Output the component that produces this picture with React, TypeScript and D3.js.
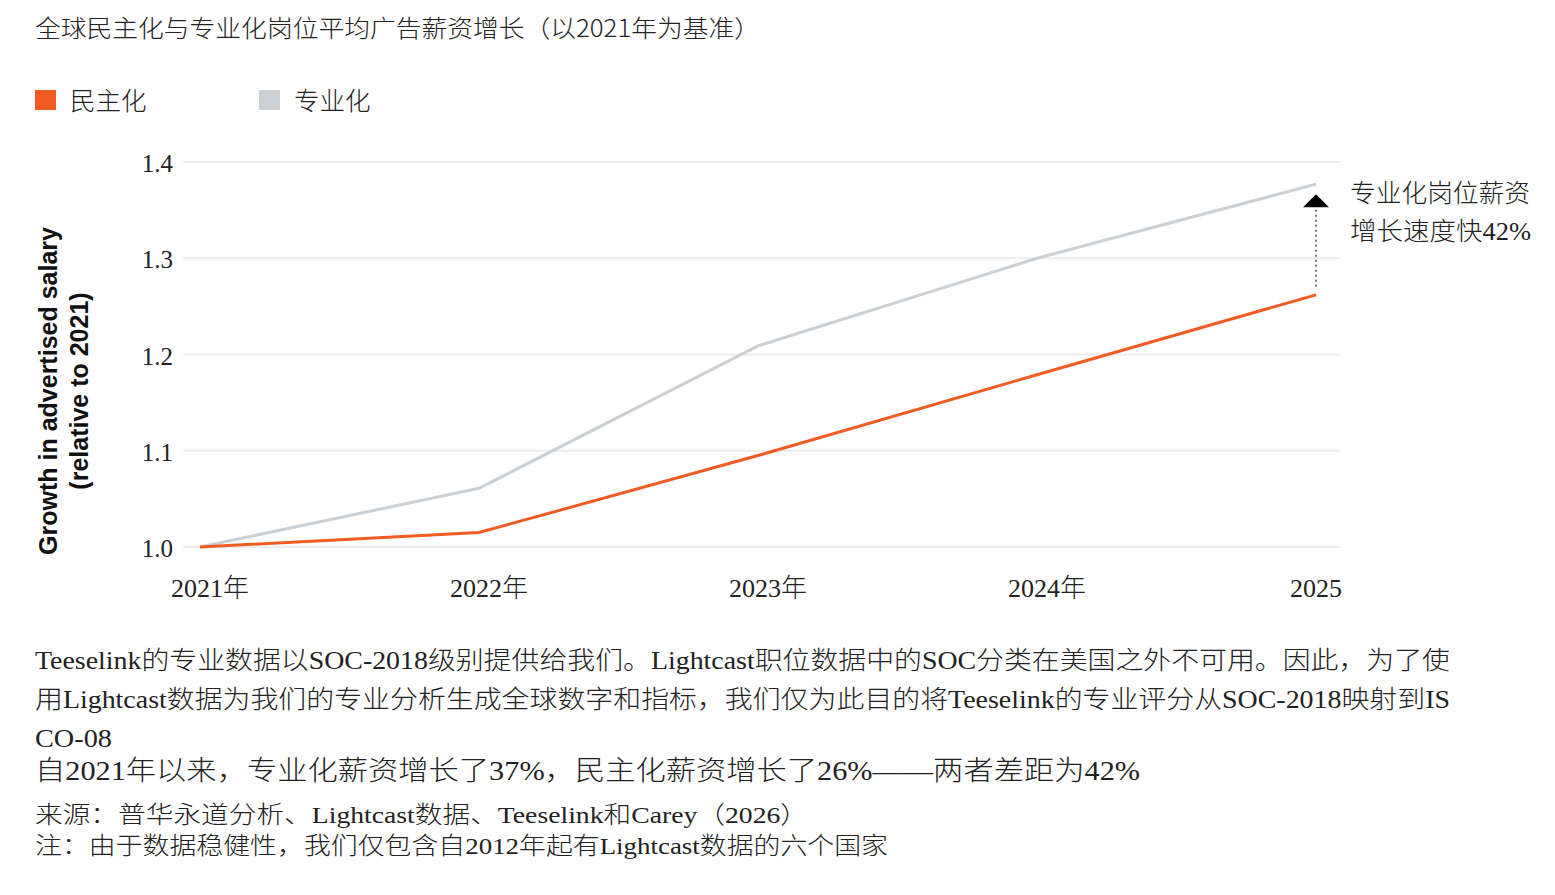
import React from "react";
import * as d3 from "d3";

const years = ["2021年", "2022年", "2023年", "2024年", "2025"];
const democratized = [1.0, 1.015, 1.095, 1.179, 1.262];
const specialized = [1.0, 1.061, 1.209, 1.3, 1.377];
const yTicks = [1.0, 1.1, 1.2, 1.3, 1.4];
const legendItems = [
  { name: "民主化", color: "#F25C22" },
  { name: "专业化", color: "#CBD0D4" },
];
const notes = [
  "Teeselink的专业数据以SOC-2018级别提供给我们。Lightcast职位数据中的SOC分类在美国之外不可用。因此，为了使",
  "用Lightcast数据为我们的专业分析生成全球数字和指标，我们仅为此目的将Teeselink的专业评分从SOC-2018映射到IS",
  "CO-08",
];
const noteWidths = [1415, 1415, 77];

const W = 1555;
const H = 895;
const FONT = "'Liberation Serif', 'Noto Sans CJK SC', serif";
const CJK = "'Noto Sans CJK SC', sans-serif";
const TEXT = "#222";

export default function App() {
  const x = d3.scalePoint().domain(years).range([200, 1316]);
  const y = d3.scaleLinear().domain([1.0, 1.4]).range([547, 162]);
  const line = d3
    .line<number>()
    .x((_, i) => x(years[i]) as number)
    .y((d) => y(d));

  const lastX = x(years[4]) as number;
  const topY = y(specialized[4]);

  return (
    <div style={{ position: "absolute", left: 0, top: 0 }}>
      <svg width={W} height={H} style={{ display: "block", background: "#fff" }}>
        <text x={35} y={37} fontSize={24} fill={TEXT} fontFamily={CJK} fontWeight={300} textLength={725} lengthAdjust="spacingAndGlyphs">
          全球民主化与专业化岗位平均广告薪资增长（以2021年为基准）
        </text>

        {legendItems.map((d, i) => (
          <g key={d.name} transform={`translate(${35 + i * 224},90)`}>
            <rect width={21} height={20} fill={d.color} />
            <text x={35} y={20} fontSize={25.5} fill={TEXT} fontFamily={CJK} fontWeight={300}>
              {d.name}
            </text>
          </g>
        ))}

        {yTicks.map((t) => (
          <g key={t}>
            <line x1={183} x2={1340} y1={y(t)} y2={y(t)} stroke="#EDEDED" strokeWidth={2} />
            <text x={173} y={y(t) + 10} textAnchor="end" fontSize={25} fill={TEXT} fontFamily={FONT}>
              {t.toFixed(1)}
            </text>
          </g>
        ))}

        {years.map((yr) => (
          <text key={yr} x={(x(yr) as number) + (yr.endsWith("年") ? 10 : 0)} y={597} textAnchor="middle" fontSize={26} fill={TEXT} fontFamily={FONT} fontWeight={300}>
            {yr}
          </text>
        ))}

        <g transform="translate(57,391) rotate(-90)" fontFamily="'Liberation Sans', Arial, sans-serif" fontWeight="bold" fontSize={25} fill="#111" textAnchor="middle">
          <text x={0} y={0}>Growth in advertised salary</text>
          <text x={0} y={31}>(relative to 2021)</text>
        </g>

        <path d={line(specialized) ?? ""} fill="none" stroke={legendItems[1].color} strokeWidth={3} />
        <path d={line(democratized) ?? ""} fill="none" stroke={legendItems[0].color} strokeWidth={3} />

        <line x1={lastX} x2={lastX} y1={y(democratized[4]) - 8} y2={topY + 22} stroke="#222" strokeWidth={1.2} strokeDasharray="2,3" />
        <path d={`M${lastX - 13},${topY + 23} L${lastX + 13},${topY + 23} L${lastX},${topY + 10} Z`} fill="#000" />

        <g fontFamily={FONT} fontWeight={300} fill={TEXT}>
          <text x={1350} y={202} fontSize={25} textLength={180} lengthAdjust="spacingAndGlyphs">专业化岗位薪资</text>
          <text x={1350} y={240} fontSize={25} textLength={181} lengthAdjust="spacingAndGlyphs">增长速度快42%</text>

          {notes.map((n, i) => (
            <text key={i} x={35} y={669 + i * 39} fontSize={25} textLength={noteWidths[i]} lengthAdjust="spacingAndGlyphs">
              {n}
            </text>
          ))}
          <text x={35} y={780} fontSize={27} textLength={1105} lengthAdjust="spacingAndGlyphs">
            自2021年以来，专业化薪资增长了37%，民主化薪资增长了26%——两者差距为42%
          </text>
          <text x={35} y={823} fontSize={24} textLength={773} lengthAdjust="spacingAndGlyphs">
            来源：普华永道分析、Lightcast数据、Teeselink和Carey（2026）
          </text>
          <text x={35} y={854} fontSize={24} textLength={853} lengthAdjust="spacingAndGlyphs">
            注：由于数据稳健性，我们仅包含自2012年起有Lightcast数据的六个国家
          </text>
        </g>
      </svg>
    </div>
  );
}
